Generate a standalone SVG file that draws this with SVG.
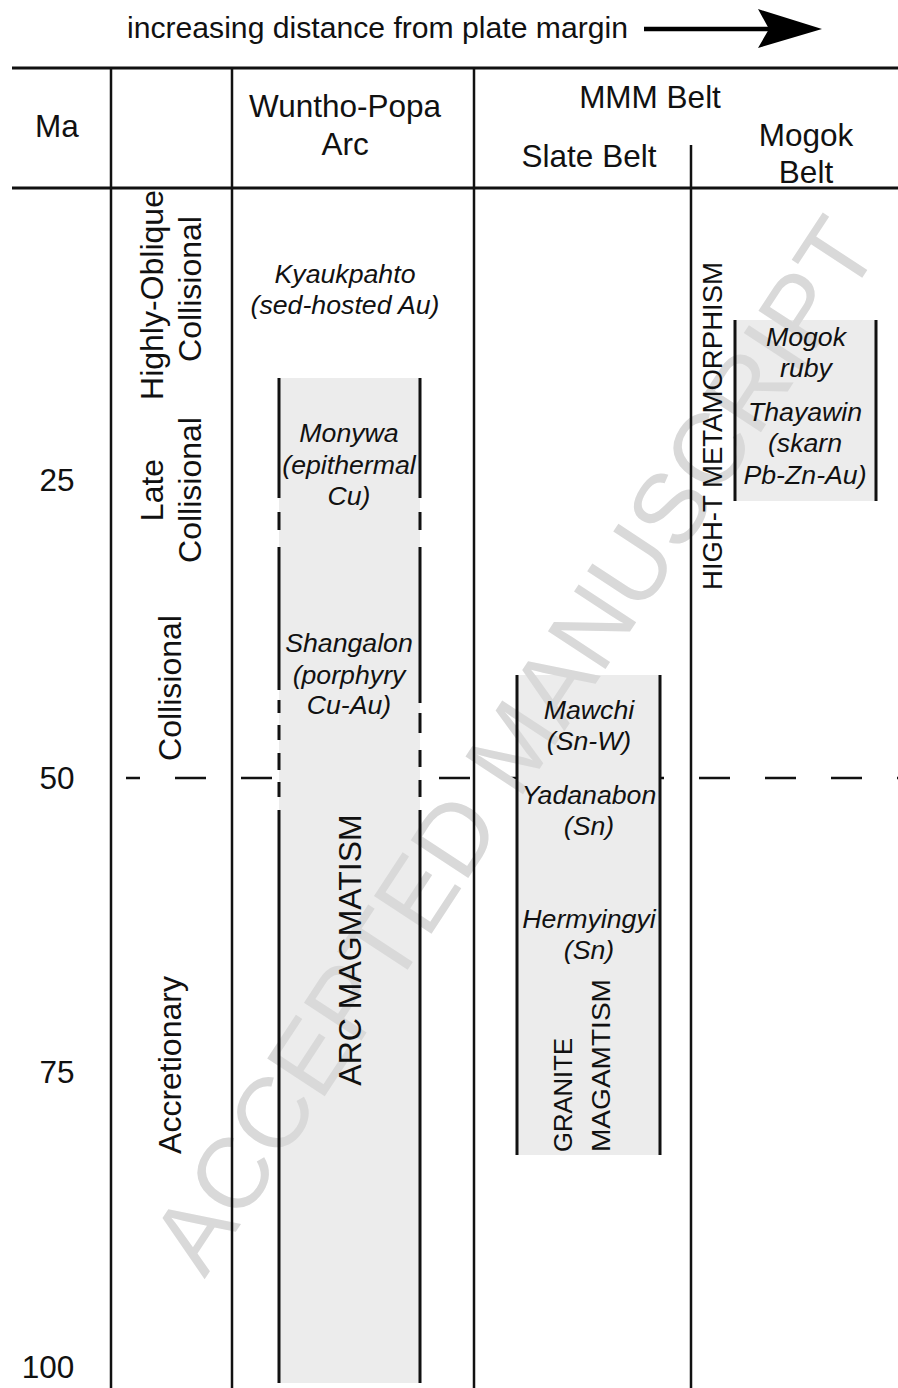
<svg xmlns="http://www.w3.org/2000/svg" width="898" height="1388" viewBox="0 0 898 1388">
<style>
  text { font-family: "Liberation Sans", Arial, sans-serif; fill: #111; }
  .hd { font-size: 31.5px; text-anchor: middle; }
  .num { font-size: 31.5px; text-anchor: middle; }
  .lab { font-size: 26.7px; font-style: italic; text-anchor: middle; }
  .vert { font-size: 32px; text-anchor: middle; }
  .grid { stroke: #111; stroke-width: 2.5; fill: none; }
  .hline { stroke: #111; stroke-width: 3; fill: none; }
  .border { stroke: #111; stroke-width: 3; fill: none; }
  .fill { fill: #ececec; stroke: none; }
  .dash { stroke: #111; stroke-width: 2.5; stroke-dasharray: 31 35; }
  .wm { font-size: 100px; fill: #d9d9d9; text-anchor: middle; }
</style>

<!-- title with arrow -->
<g id="title">
  <text x="127" y="38" font-size="29" textLength="501" lengthAdjust="spacingAndGlyphs">increasing distance from plate margin</text>
  <line x1="644" y1="29" x2="770" y2="29" stroke="#000" stroke-width="4.5"/>
  <polygon points="758,9 822,29 758,48 769,29" fill="#000"/>
</g>

<!-- background fills -->
<g id="fills">
  <rect class="fill" x="279" y="378" width="141" height="1005"/>
  <rect class="fill" x="517" y="675" width="143" height="480"/>
  <rect class="fill" x="735" y="320" width="141" height="181"/>
</g>

<!-- 50 Ma dashed boundary (drawn under boxes) -->
<g id="boundary">
  <line class="dash" x1="126" y1="778" x2="279" y2="778" stroke-dashoffset="17"/>
  <line class="dash" x1="420" y1="778" x2="517" y2="778" stroke-dashoffset="47"/>
  <line class="dash" x1="660" y1="778" x2="898" y2="778" stroke-dashoffset="27"/>
</g>

<!-- watermark -->
<text class="wm" transform="translate(543,764) rotate(-56.7)">ACCEPTED MANUSCRIPT</text>

<!-- table grid -->
<g id="grid">
  <line class="hline" x1="12" y1="68" x2="898" y2="68"/>
  <line class="hline" x1="12" y1="188" x2="898" y2="188"/>
  <line class="grid" x1="111" y1="68" x2="111" y2="1388"/>
  <line class="grid" x1="232" y1="68" x2="232" y2="1388"/>
  <line class="grid" x1="474" y1="68" x2="474" y2="1388"/>
  <line class="grid" x1="691" y1="145" x2="691" y2="1388"/>
</g>

<!-- header -->
<g id="header">
  <text class="hd" x="57" y="137">Ma</text>
  <text class="hd" x="345" y="117">Wuntho-Popa</text>
  <text class="hd" x="345" y="155">Arc</text>
  <text class="hd" x="650" y="108">MMM Belt</text>
  <text class="hd" x="589" y="167">Slate Belt</text>
  <text class="hd" x="806" y="146">Mogok</text>
  <text class="hd" x="806" y="183">Belt</text>
</g>

<!-- age axis -->
<g id="ages">
  <text class="num" x="57" y="491">25</text>
  <text class="num" x="57" y="789">50</text>
  <text class="num" x="57" y="1083">75</text>
  <text class="num" x="48" y="1378">100</text>
</g>

<!-- tectonic stages -->
<g id="stage-highly-oblique">
  <text class="vert" transform="translate(163,295) rotate(-90)">Highly-Oblique</text>
  <text class="vert" transform="translate(201,289) rotate(-90)">Collisional</text>
</g>
<g id="stage-late-collisional">
  <text class="vert" transform="translate(163,490) rotate(-90)">Late</text>
  <text class="vert" transform="translate(201,490) rotate(-90)">Collisional</text>
</g>
<g id="stage-collisional">
  <text class="vert" transform="translate(181,688) rotate(-90)">Collisional</text>
</g>
<g id="stage-accretionary">
  <text class="vert" transform="translate(181,1065) rotate(-90)">Accretionary</text>
</g>

<!-- Wuntho-Popa Arc -->
<g id="kyaukpahto">
  <text class="lab" x="345" y="283">Kyaukpahto</text>
  <text class="lab" x="345" y="314">(sed-hosted Au)</text>
</g>
<g id="arc-magmatism">
  <g class="border">
    <path d="M279,378V498M279,512V530M279,547V690M279,700V713M279,725V740M279,753V770M279,782V797M279,810V1383"/>
    <path d="M420,378V498M420,512V530M420,547V703M420,713V733M420,750V767M420,780V797M420,810V1383"/>
  </g>
  <text class="vert" transform="translate(361,950) rotate(-90)">ARC MAGMATISM</text>
  <text class="lab" x="349" y="442">Monywa</text>
  <text class="lab" x="349" y="474">(epithermal</text>
  <text class="lab" x="349" y="505">Cu)</text>
  <text class="lab" x="349" y="652">Shangalon</text>
  <text class="lab" x="349" y="684">(porphyry</text>
  <text class="lab" x="349" y="714">Cu-Au)</text>
</g>

<!-- Slate Belt -->
<g id="granite-magmatism">
  <path class="border" d="M517,675V1155M660,675V1155"/>
  <text font-size="26" transform="translate(572,1152) rotate(-90)" textLength="114" lengthAdjust="spacingAndGlyphs">GRANITE</text>
  <text font-size="26" transform="translate(610,1152) rotate(-90)" textLength="173" lengthAdjust="spacingAndGlyphs">MAGAMTISM</text>
  <text class="lab" x="589" y="719">Mawchi</text>
  <text class="lab" x="589" y="750">(Sn-W)</text>
  <text class="lab" x="589" y="804">Yadanabon</text>
  <text class="lab" x="589" y="835">(Sn)</text>
  <text class="lab" x="589" y="928">Hermyingyi</text>
  <text class="lab" x="589" y="959">(Sn)</text>
</g>

<!-- Mogok Belt -->
<g id="high-t-metamorphism">
  <text font-size="27" text-anchor="middle" transform="translate(722,426) rotate(-90)" textLength="328" lengthAdjust="spacingAndGlyphs">HIGH-T METAMORPHISM</text>
</g>
<g id="mogok-deposits">
  <path class="border" d="M735,320V501M876,320V501"/>
  <text class="lab" x="806" y="346">Mogok</text>
  <text class="lab" x="806" y="377">ruby</text>
  <text class="lab" x="805" y="421">Thayawin</text>
  <text class="lab" x="805" y="452">(skarn</text>
  <text class="lab" x="805" y="484">Pb-Zn-Au)</text>
</g>
</svg>
